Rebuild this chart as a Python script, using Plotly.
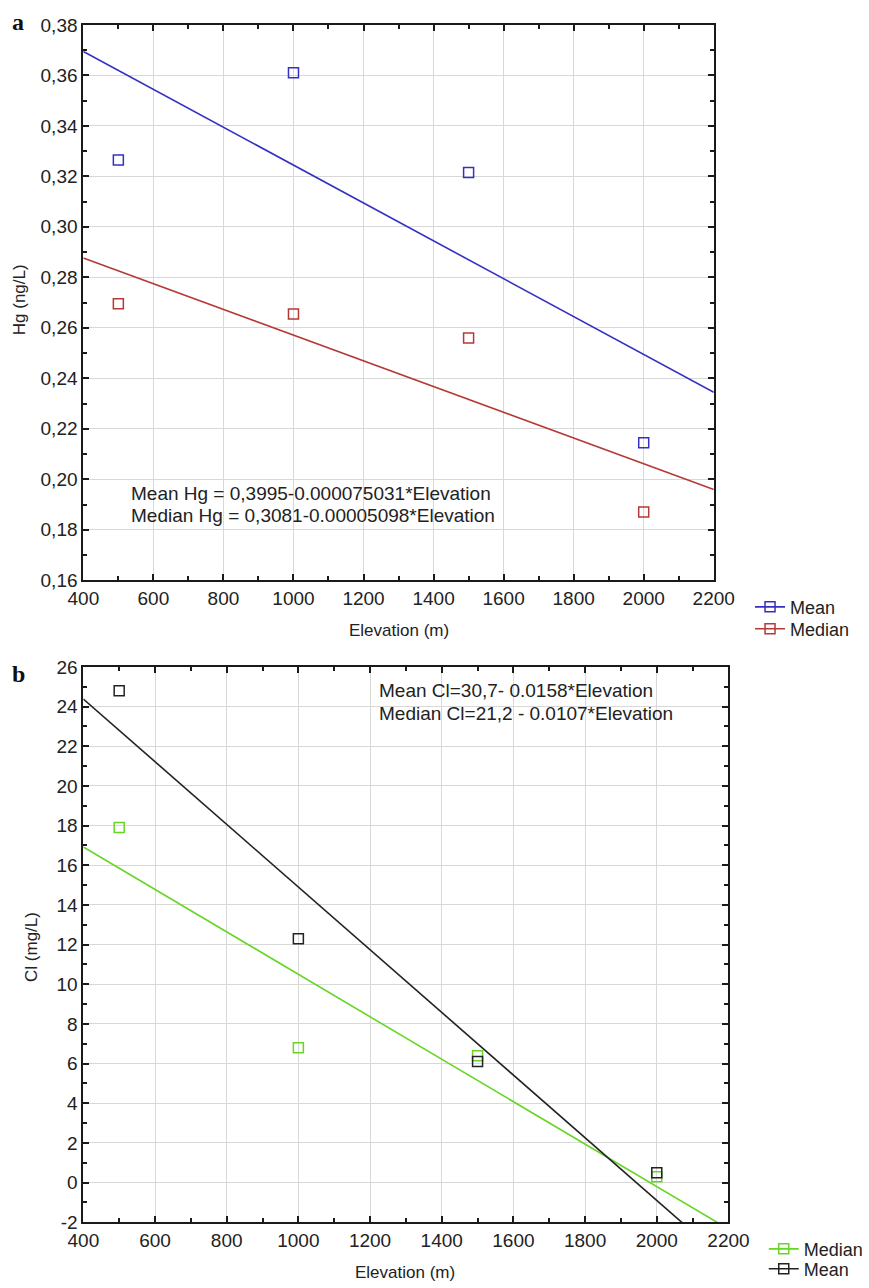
import plotly.graph_objects as go

# ---- Data ----
elev = [500, 1000, 1500, 2000]
hg_mean = [0.3265, 0.361, 0.3215, 0.2145]
hg_median = [0.2695, 0.2655, 0.256, 0.187]
cl_mean = [24.8, 12.3, 6.1, 0.5]
cl_median = [17.9, 6.8, 6.4, 0.3]

# regression coefficients (intercept, slope) from the chart equations
hg_mean_fit = (0.3995, -0.000075031)
hg_median_fit = (0.3081, -0.00005098)
cl_mean_fit = (30.7, -0.0158)
cl_median_fit = (21.2, -0.0107)

fit_x = [400, 2200]

# axis ranges / tick labels
x_range = [400, 2200]
hg_range = [0.16, 0.38]
cl_range = [-2, 26]
cl_ticks = [-2, 0, 2, 4, 6, 8, 10, 12, 14, 16, 18, 20, 22, 24, 26]
cl_ticktext = ["-2", "0", "2", "4", "6", "8", "10", "12", "14", "16", "18", "20", "22", "24", "26"]

# ---- Styles ----
BLUE = "#3430c4"
RED = "#b43a36"
BLACK = "#222222"
GREEN = "#66d625"
FONT = "Liberation Sans, Arial, sans-serif"
TXT = "#222"
AX = "#1a1a1a"
W, H = 869, 1288

def fit(coef, xs):
    return [coef[0] + coef[1] * x for x in xs]

def px_x(p):
    return p / W

def px_y(p):
    return 1 - p / H

fig = go.Figure()

# empty traces so the minor-tick overlay axes are rendered
fig.add_trace(go.Scatter(x=[None], y=[None], xaxis="x3", yaxis="y3", showlegend=False))
fig.add_trace(go.Scatter(x=[None], y=[None], xaxis="x4", yaxis="y4", showlegend=False))

def add_series(xs, ys, coef, color, name, xa, ya, legend):
    fig.add_trace(go.Scatter(x=fit_x, y=fit(coef, fit_x), mode="lines",
                             line=dict(color=color, width=1.6), xaxis=xa, yaxis=ya,
                             showlegend=False, hoverinfo="skip"))
    fig.add_trace(go.Scatter(x=xs, y=ys, mode="markers",
                             marker=dict(symbol="square-open", size=10, color=color,
                                         line=dict(width=1.5, color=color)),
                             xaxis=xa, yaxis=ya, showlegend=False))
    fig.add_trace(go.Scatter(x=[None], y=[None], mode="lines+markers", name=name,
                             marker=dict(symbol="square-open", size=10, color=color,
                                         line=dict(width=1.5, color=color)),
                             line=dict(color=color, width=1.6),
                             xaxis=xa, yaxis=ya, legend=legend))

add_series(elev, hg_mean, hg_mean_fit, BLUE, "Mean", "x", "y", "legend")
add_series(elev, hg_median, hg_median_fit, RED, "Median", "x", "y", "legend2")
add_series(elev, cl_median, cl_median_fit, GREEN, "Median", "x2", "y2", "legend3")
add_series(elev, cl_mean, cl_mean_fit, BLACK, "Mean", "x2", "y2", "legend4")

axis_common = dict(
    showline=True, linecolor=AX, linewidth=2, mirror="ticks",
    ticks="inside", ticklen=6, tickwidth=2, tickcolor=AX,
    showgrid=True, gridcolor="#d8d8d8", gridwidth=1, zeroline=False,
    automargin=False,
    tickfont=dict(family=FONT, size=19, color=TXT),
)

minor_common = dict(
    showline=False, mirror="allticks", ticks="inside", ticklen=4, tickwidth=1.5,
    tickcolor=AX, showgrid=False, zeroline=False, showticklabels=False,
    automargin=False, tickmode="linear",
)

def legend_at(x, y):
    return dict(x=px_x(x), y=px_y(y), xanchor="left", yanchor="middle",
                font=dict(family=FONT, size=18, color=TXT), bgcolor="rgba(0,0,0,0)",
                itemwidth=30, borderwidth=0)

def text(t, x, y, size=19, xanchor="left", angle=0):
    return dict(text=t, x=px_x(x), y=px_y(y), xref="paper", yref="paper",
                xanchor=xanchor, yanchor="middle", showarrow=False, textangle=angle,
                font=dict(family=FONT, size=size, color=TXT))

dom_xa = [px_x(85), px_x(728)]
dom_ya = [px_y(583), px_y(25)]
dom_xb = [px_x(85), px_x(743)]
dom_yb = [px_y(1228), px_y(670)]

fig.update_layout(
    width=W, height=H,
    margin=dict(l=0, r=0, t=0, b=0),
    separators=",.",
    paper_bgcolor="white", plot_bgcolor="white",
    font=dict(family=FONT, size=18, color=TXT),
    xaxis=dict(domain=dom_xa, range=x_range, tickmode="linear", tick0=400, dtick=200,
               tickformat="d", anchor="y", **axis_common),
    yaxis=dict(domain=dom_ya, range=hg_range, tickmode="linear", tick0=0.16, dtick=0.02,
               tickformat=".2f", anchor="x", **axis_common),
    xaxis2=dict(domain=dom_xb, range=x_range, tickmode="linear", tick0=400, dtick=200,
                tickformat="d", anchor="y2", **axis_common),
    yaxis2=dict(domain=dom_yb, range=cl_range, tickmode="array", tickvals=cl_ticks,
                ticktext=cl_ticktext, anchor="x2", **axis_common),
    # minor tick overlays
    xaxis3=dict(overlaying="x", range=x_range, tick0=400, dtick=100, anchor="y", **minor_common),
    yaxis3=dict(overlaying="y", range=hg_range, tick0=0.16, dtick=0.01, anchor="x", **minor_common),
    xaxis4=dict(overlaying="x2", range=x_range, tick0=400, dtick=100, anchor="y2", **minor_common),
    yaxis4=dict(overlaying="y2", range=cl_range, tick0=-2, dtick=1, anchor="x2", **minor_common),
    legend=legend_at(765, 610),
    legend2=legend_at(765, 632),
    legend3=legend_at(779, 1255),
    legend4=legend_at(779, 1275),
    annotations=[
        dict(text="<b>a</b>", x=px_x(10), y=px_y(22), xref="paper", yref="paper",
             xanchor="left", yanchor="middle", showarrow=False,
             font=dict(family="Liberation Serif, Times New Roman, serif", size=24, color="#111")),
        dict(text="<b>b</b>", x=px_x(10), y=px_y(677), xref="paper", yref="paper",
             xanchor="left", yanchor="middle", showarrow=False,
             font=dict(family="Liberation Serif, Times New Roman, serif", size=24, color="#111")),
        text("Mean Hg = 0,3995-0.000075031*Elevation", 132, 496),
        text("Median Hg = 0,3081-0.00005098*Elevation", 132, 518),
        text("Mean Cl=30,7- 0.0158*Elevation", 385, 694),
        text("Median Cl=21,2 - 0.0107*Elevation", 385, 717),
        text("Elevation (m)", 407, 633, size=17, xanchor="center"),
        text("Elevation (m)", 413, 1278, size=17, xanchor="center"),
        text("Hg (ng/L)", 20, 301, size=17, xanchor="center", angle=-90),
        text("Cl (mg/L)", 32, 951, size=17, xanchor="center", angle=-90),
    ],
)

fig.write_html("out.html")
